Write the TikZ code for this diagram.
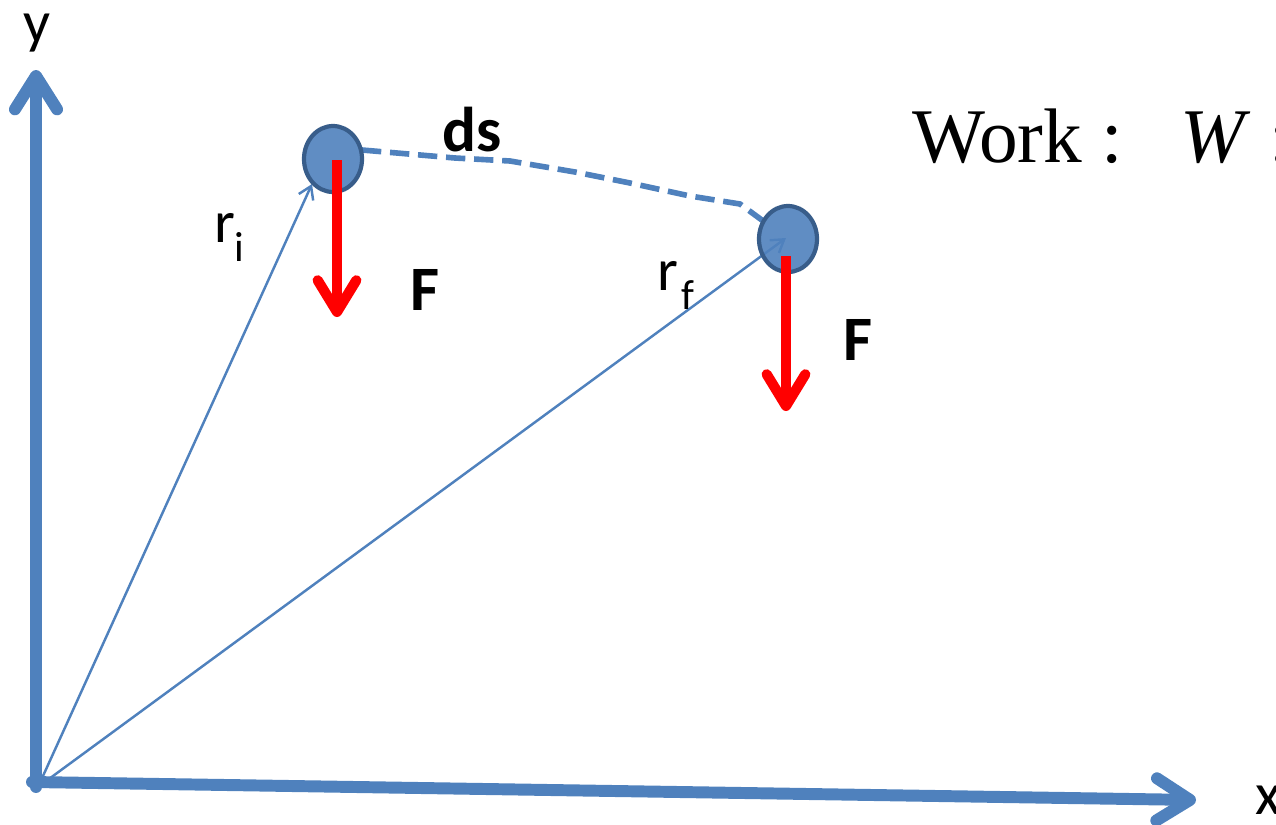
\documentclass[tikz,border=0pt]{standalone}
\usepackage{fontspec}
\setmainfont{Liberation Serif}
\newfontfamily\carlitofont{Carlito}
\usetikzlibrary{arrows.meta}
\definecolor{axblue}{HTML}{4F81BD}
\definecolor{balledge}{HTML}{385D8A}
\definecolor{fred}{HTML}{FF0000}
\begin{document}
\begin{tikzpicture}[x=0.02cm,y=-0.02cm,
  axis/.style={draw=axblue,line width=6.8pt,line cap=round,
    -{Straight Barb[length=19pt,width=24pt,round]}},
  vec/.style={draw=axblue,line width=1.4pt,
    -{Straight Barb[length=7pt,width=9pt]}},
  force/.style={draw=fred,line width=5.8pt,
    -{Straight Barb[length=18pt,width=22pt,round]}},
  trail/.style={draw=axblue,line width=3.2pt,dash pattern=on 11pt off 5pt},
  ballst/.style={draw=balledge,line width=2.4pt,fill=axblue,fill opacity=0.9},
  lbl/.style={font=\carlitofont\fontsize{34}{40}\selectfont,inner sep=0pt},
  blbl/.style={font=\carlitofont\bfseries\fontsize{36}{42}\selectfont,inner sep=0pt},
  sub/.style={font=\carlitofont\fontsize{24}{28}\selectfont,inner sep=0pt},
]
\useasboundingbox (0,0) rectangle (1276,825);
% coordinates
\coordinate (Ytip) at (36,70);
\coordinate (Xtip) at (1196,800);
\coordinate (Ybase) at (36,787);
\coordinate (Xbase) at (32,782);
\coordinate (R0) at (38,787);
\coordinate (ri) at (312,184);
\coordinate (rf) at (786,238);
% vectors
\draw[vec] (R0) -- (ri);
\draw[vec] (R0) -- (rf);
% dashed path
\draw[trail] (362,150) -- (455,158) -- (510,161) -- (575,172) -- (630,183) -- (690,196) -- (740,204) -- (770,226);
% balls
\draw[ballst] (333,159) ellipse [x radius=29,y radius=33];
\draw[ballst] (788,239) ellipse [x radius=29,y radius=33];
\coordinate (b1) at (337,160);
\coordinate (b2) at (786,256);
\coordinate (f1tip) at (337,317);
\coordinate (f2tip) at (786,411);
% forces
\draw[force] (b1) -- (f1tip);
\draw[force] (b2) -- (f2tip);
% axes
\draw[axis] (Ybase) -- (Ytip);
\draw[axis] (Xbase) -- (Xtip);
% labels
\node[lbl] (ylab) at (37,33) {y};
\node[lbl] (xlab) at (1268,800) {x};
\node[blbl] (ds) at (472,130) {ds};
\node[blbl] (F1) at (425,290) {F};
\node[blbl] (F2) at (858,340) {F};
\node[lbl] (rilab) at (225,228) {r};
\node[sub] (risub) at (239,247) {i};
\node[lbl] (rflab) at (668,276) {r};
\node[sub] (rfsub) at (688,295) {f};
\node[anchor=base west,inner sep=0pt,font=\fontsize{44}{50}\selectfont] (work) at (912,162) {Work :};
\node[anchor=base west,inner sep=0pt,font=\fontsize{44}{50}\selectfont] (W) at (1180,162) {\textit{W} :};
\end{tikzpicture}
\end{document}
